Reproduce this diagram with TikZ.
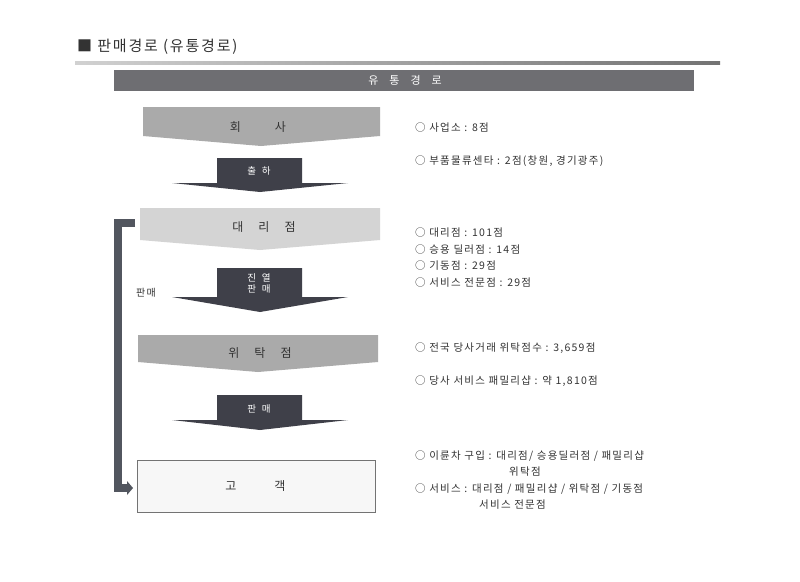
\documentclass[tikz,border=0pt]{standalone}
\usepackage{fontspec}
\setmainfont{Noto Sans CJK KR}
\newfontfamily\spacedfont[LetterSpace=12]{Noto Sans CJK KR}
\usetikzlibrary{arrows.meta,calc}
\definecolor{txt}{HTML}{333333}
\definecolor{hdr}{HTML}{6E6E72}
\definecolor{darkarr}{HTML}{3F4049}
\definecolor{brk}{HTML}{52565F}
\definecolor{midgray}{HTML}{AAAAAA}
\definecolor{lightgray}{HTML}{D4D4D4}
\tikzset{
  stagetext/.style={font=\fontsize{12}{14}\selectfont, text=txt},
  arrtext/.style={font=\fontsize{9.5}{10}\selectfont, text=white, align=center},
  info/.style={font=\spacedfont\fontsize{10.5}{12}\selectfont, text=txt, anchor=west, inner sep=0},
  darrow/.style={fill=darkarr, draw=none},
  bracket/.style={draw=brk, line width=8pt},
}
\begin{document}
\begin{tikzpicture}[x=1pt,y=-1pt]
\useasboundingbox (0,0) rectangle (800,581);
\fill[white] (0,0) rectangle (800,581);
% title
\node[anchor=west, font=\spacedfont\fontsize{15}{17}\selectfont, text=txt, inner sep=0] (title) at (77,47) {■ 판매경로 (유통경로)};
\shade[left color=black!18, right color=black!55] (75,61) rectangle (720,64);
% header bar
\fill[hdr] (114,70) rectangle (694,91);
\node[font=\fontsize{11}{12}\selectfont, text=white] (hdr) at (405,80.5) {유\hspace{11pt}통\hspace{11pt}경\hspace{11pt}로};
% stage shapes
\fill[midgray] (143,107) -- (380,107) -- (380,136) -- (261,146) -- (143,136) -- cycle;
\node[stagetext] (hoesa) at (258,127) {회\hspace{34pt}사};
\fill[darrow] (217,158) -- (302,158) -- (302,183) -- (348,183) -- (260,192) -- (172,183) -- (217,183) -- cycle;
\node[arrtext] (chulha) at (259,171) {출\hspace{6pt}하};

\fill[lightgray] (140,208) -- (380,208) -- (380,240) -- (260,250) -- (140,240) -- cycle;
\node[stagetext] (daeri) at (264,227) {대\hspace{15pt}리\hspace{15pt}점};
\coordinate (daeriW) at (140,222.5);
\fill[darrow] (217,268) -- (302,268) -- (302,297) -- (348,297) -- (260,312) -- (172,297) -- (217,297) -- cycle;
\node[arrtext, font=\fontsize{9.5}{11}\selectfont] (jinyeol) at (259,283) {진\hspace{6pt}열\\판\hspace{6pt}매};

\fill[midgray] (138,335) -- (378,335) -- (378,362) -- (258,372) -- (138,362) -- cycle;
\node[stagetext] (witak) at (260,353) {위\hspace{15pt}탁\hspace{15pt}점};
\fill[darrow] (217,395) -- (302,395) -- (302,420) -- (348,420) -- (260,430) -- (172,420) -- (217,420) -- cycle;
\node[arrtext] (panmae) at (259,409) {판\hspace{6pt}매};

\node[draw=black!55, fill=black!3, minimum width=238pt, minimum height=52pt, anchor=north west, inner sep=0, line width=0.6pt] (gogaek) at (137,460) {};
\node[stagetext] at ([xshift=-1pt]gogaek.center) {고\hspace{38pt}객};

% bracket
\draw[bracket, line cap=butt] (daeriW) ++(-5,0) -- (118,222.5) -- (118,488) -- ([xshift=-9pt]gogaek.west |- 0,488);
\fill[brk] ([xshift=-10pt]gogaek.west |- 0,481) -- ([xshift=-4pt]gogaek.west |- 0,488) -- ([xshift=-10pt]gogaek.west |- 0,495) -- cycle;
\node[font=\spacedfont\fontsize{10}{11}\selectfont, text=txt] (panmaeL) at (146,293) {판매};

% info texts
\node[info] (i1) at (415,128) {○ 사업소 : 8점};
\node[info] (i2) at (415,161) {○ 부품물류센타 : 2점(창원, 경기광주)};
\node[info] (i3) at (415,233) {○ 대리점 : 101점};
\node[info] (i4) at (415,249.5) {○ 승용 딜러점 : 14점};
\node[info] (i5) at (415,266) {○ 기동점 : 29점};
\node[info] (i6) at (415,282.5) {○ 서비스 전문점 : 29점};
\node[info] (i7) at (415,348) {○ 전국 당사거래 위탁점수 : 3,659점};
\node[info] (i8) at (415,381) {○ 당사 서비스 패밀리샵 : 약 1,810점};
\node[info] (i9) at (415,456) {○ 이륜차 구입 : 대리점/ 승용딜러점 / 패밀리샵};
\node[info] (i10) at (509,472) {위탁점};
\node[info] (i11) at (415,489) {○ 서비스 : 대리점 / 패밀리샵 / 위탁점 / 기동점};
\node[info] (i12) at (479,505) {서비스 전문점};
\end{tikzpicture}
\end{document}
